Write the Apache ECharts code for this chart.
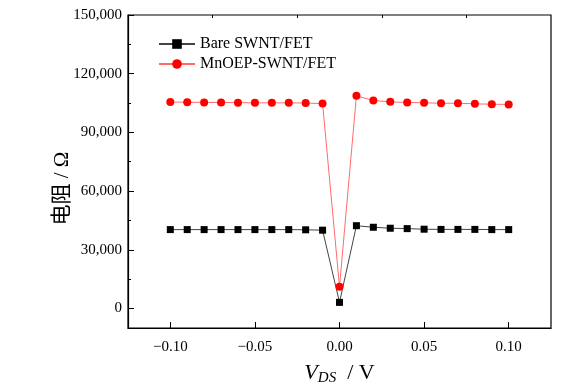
<!DOCTYPE html>
<html><head><meta charset="utf-8">
<script src="https://cdn.jsdelivr.net/npm/echarts@6/dist/echarts.min.js"></script>
<style>html,body{margin:0;padding:0;background:#fff}#c{width:582px;height:392px}</style>
</head><body><div id="c"></div>
<script>
var vds = [-0.10,-0.09,-0.08,-0.07,-0.06,-0.05,-0.04,-0.03,-0.02,-0.01,0.00,0.01,0.02,0.03,0.04,0.05,0.06,0.07,0.08,0.09,0.10];
var bare = [40300,40300,40300,40300,40300,40300,40300,40300,40200,40000,3100,42300,41500,41000,40800,40500,40400,40400,40400,40300,40300];
var mnoep = [105500,105400,105300,105300,105200,105100,105100,105100,105000,104700,11100,108700,106300,105600,105300,105100,104900,104900,104600,104400,104300];
var seriesNames = ['Bare SWNT/FET','MnOEP-SWNT/FET'];
var xMajor = [-0.10,-0.05,0.00,0.05,0.10];
var xMinor = [-0.075,-0.025,0.025,0.075];
var yMajor = [0,30000,60000,90000,120000,150000];
var yMinor = [15000,45000,75000,105000,135000];

var serif = '"Liberation Serif","Times New Roman",serif';
function pairs(ys){return vds.map(function(x,i){return [x,ys[i]];});}
function fmtX(v){var s=Number(v).toFixed(2);return s.replace('-','\u2212');}
function fmtY(v){return Number(v).toLocaleString('en-US');}

var chart = echarts.init(document.getElementById('c'));
var baseX = {type:'value',min:-0.125,max:0.125,gridIndex:0};
var baseY = {type:'value',min:-10000,max:150000,gridIndex:0};
chart.setOption({
  animation:false,
  grid:{left:128,right:31,top:15,bottom:64,show:true,borderColor:'#000',borderWidth:1.2,backgroundColor:'transparent'},
  legend:{
    orient:'vertical',left:153,top:31,itemWidth:36,itemHeight:12,itemGap:4,
    textStyle:{fontFamily:serif,fontSize:16,color:'#000',lineHeight:16},
    data:seriesNames
  },
  xAxis:[
    Object.assign({},baseX,{
      name:'{i|V}{sub|DS}{n|  / V}',nameLocation:'middle',nameGap:32,nameMoveOverlap:false,
      nameTextStyle:{rich:{
        i:{fontFamily:serif,fontStyle:'italic',fontSize:22,color:'#000'},
        sub:{fontFamily:serif,fontStyle:'italic',fontSize:15,color:'#000',padding:[11,0,0,0]},
        n:{fontFamily:serif,fontSize:22,color:'#000'}
      }},
      axisLine:{show:true,onZero:false,lineStyle:{color:'#000',width:1.2}},
      axisTick:{show:true,inside:true,length:6,customValues:xMajor,lineStyle:{color:'#000'}},
      axisLabel:{show:true,customValues:xMajor,formatter:fmtX,fontFamily:serif,fontSize:15,color:'#000',margin:12},
      splitLine:{show:false}
    }),
    Object.assign({},baseX,{
      axisLine:{show:false,onZero:false},
      axisTick:{show:true,inside:true,length:3,customValues:xMinor,lineStyle:{color:'#000'}},
      axisLabel:{show:false},splitLine:{show:false}
    })
  ],
  yAxis:[
    Object.assign({},baseY,{
      name:'电阻 / Ω',nameLocation:'middle',nameGap:55,nameRotate:90,nameMoveOverlap:false,
      nameTextStyle:{fontFamily:'"Liberation Serif","Noto Sans CJK SC",serif',fontSize:21,color:'#000',padding:[0,34,0,0]},
      axisLine:{show:true,onZero:false,lineStyle:{color:'#000',width:1.2}},
      axisTick:{show:true,inside:true,length:6,customValues:yMajor,lineStyle:{color:'#000'}},
      axisLabel:{show:true,customValues:yMajor,formatter:fmtY,fontFamily:serif,fontSize:15,color:'#000',margin:6},
      splitLine:{show:false}
    }),
    Object.assign({},baseY,{
      position:'left',
      axisLine:{show:false,onZero:false},
      axisTick:{show:true,inside:true,length:3,customValues:yMinor,lineStyle:{color:'#000'}},
      axisLabel:{show:false},splitLine:{show:false}
    })
  ],
  series:[
    {name:seriesNames[0],type:'line',xAxisIndex:0,yAxisIndex:0,data:pairs(bare),
     symbol:'rect',symbolSize:7,itemStyle:{color:'#000'},lineStyle:{color:'#444',width:1},z:3},
    {name:seriesNames[1],type:'line',xAxisIndex:0,yAxisIndex:0,data:pairs(mnoep),
     symbol:'circle',symbolSize:8,itemStyle:{color:'#ff0000'},lineStyle:{color:'#ff6b6b',width:1},z:4}
  ]
});
</script></body></html>
